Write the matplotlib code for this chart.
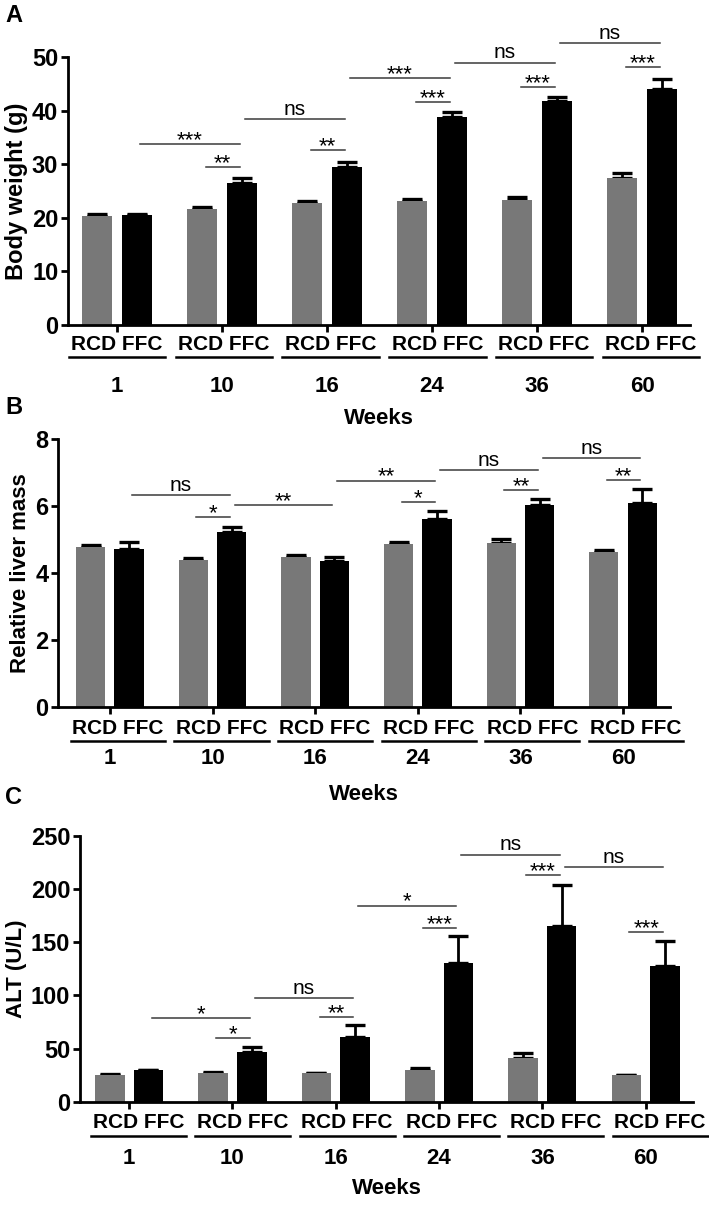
import matplotlib
matplotlib.use('Agg')
import matplotlib.pyplot as plt
import matplotlib.transforms as mtransforms
import numpy as np

# ============================================================
# data
# ============================================================
weeks = ['1', '10', '16', '24', '36', '60']
group_label = 'RCD FFC'

bw_rcd      = [20.4, 21.6, 22.85, 23.2, 23.3, 27.4]
bw_rcd_err  = [0.3, 0.5, 0.35, 0.3, 0.7, 1.0]
bw_ffc      = [20.5, 26.6, 29.6, 38.9, 41.8, 44.0]
bw_ffc_err  = [0.3, 0.9, 0.8, 0.8, 0.85, 2.0]

liver_rcd     = [4.77, 4.39, 4.48, 4.87, 4.91, 4.63]
liver_rcd_err = [0.06, 0.05, 0.06, 0.05, 0.10, 0.06]
liver_ffc     = [4.71, 5.22, 4.37, 5.60, 6.02, 6.08]
liver_ffc_err = [0.23, 0.16, 0.12, 0.26, 0.20, 0.42]

alt_rcd     = [25.6, 27.2, 27.2, 30.0, 41.6, 25.3]
alt_rcd_err = [0.7, 0.6, 0.3, 2.2, 4.3, 0.3]
alt_ffc     = [30.0, 46.6, 60.6, 130.3, 165.3, 127.8]
alt_ffc_err = [0.0, 4.7, 11.3, 26.0, 38.8, 23.1]

# significance brackets: (week idx a, group a, week idx b, group b, height, label)
bw_sig = [(0, 'F', 1, 'F', 33.8, '***'), (1, 'R', 1, 'F', 29.5, '**'),
          (1, 'F', 2, 'F', 38.4, 'ns'),  (2, 'R', 2, 'F', 32.6, '**'),
          (2, 'F', 3, 'F', 46.1, '***'), (3, 'R', 3, 'F', 41.6, '***'),
          (3, 'F', 4, 'F', 49.0, 'ns'),  (4, 'R', 4, 'F', 44.4, '***'),
          (4, 'F', 5, 'F', 52.7, 'ns'),  (5, 'R', 5, 'F', 48.1, '***')]
liver_sig = [(0, 'F', 1, 'F', 6.32, 'ns'), (1, 'R', 1, 'F', 5.66, '*'),
             (1, 'F', 2, 'F', 6.04, '**'), (2, 'F', 3, 'F', 6.76, '**'),
             (3, 'R', 3, 'F', 6.12, '*'),  (3, 'F', 4, 'F', 7.08, 'ns'),
             (4, 'R', 4, 'F', 6.48, '**'), (4, 'F', 5, 'F', 7.43, 'ns'),
             (5, 'R', 5, 'F', 6.77, '**')]
alt_sig = [(0, 'F', 1, 'F', 79.1, '*'),   (1, 'R', 1, 'F', 60.0, '*'),
           (1, 'F', 2, 'F', 97.8, 'ns'),  (2, 'R', 2, 'F', 79.4, '**'),
           (2, 'F', 3, 'F', 184.4, '*'),  (3, 'R', 3, 'F', 163.4, '***'),
           (3, 'F', 4, 'F', 232.2, 'ns'), (4, 'R', 4, 'F', 213.1, '***'),
           (4, 'F', 5, 'F', 220.3, 'ns'), (5, 'R', 5, 'F', 159.4, '***')]

# ============================================================
# style
# ============================================================
W, H = 709, 1205
SANS = ['Liberation Sans', 'DejaVu Sans']
plt.rcParams['font.family'] = SANS
color_rcd = '#787878'
color_ffc = '#000000'
off = 0.187
bar_w = 0.286

fig = plt.figure(figsize=(W / 100, H / 100), dpi=100)


def px_axes(left, right, top, bottom):
    return fig.add_axes([left / W, 1 - bottom / H, (right - left) / W, (bottom - top) / H])


def panel(ax, rcd, rcd_err, ffc, ffc_err, sig, ymax, ystep, ylabel, ylabel_size,
          xlim, lab_shift, lab_step, y_grp, y_line, y_week, y_weeks, letter, letter_y):
    x = np.arange(len(weeks))
    ekw = dict(elinewidth=2.0, capsize=7, capthick=2.4, ecolor='black')
    ax.bar(x - off, rcd, bar_w, color=color_rcd, zorder=2)
    ax.errorbar(x - off, rcd, yerr=[np.zeros(len(rcd)), rcd_err], fmt='none', zorder=1, **ekw)
    ax.bar(x + off, ffc, bar_w, color=color_ffc, zorder=2)
    ax.errorbar(x + off, ffc, yerr=[np.zeros(len(ffc)), ffc_err], fmt='none', zorder=1, **ekw)

    ax.set_xlim(*xlim)
    ax.set_ylim(0, ymax)
    ax.set_yticks(np.arange(0, ymax + ystep / 2, ystep))
    ax.set_xticks(x)
    ax.set_xticklabels([])
    for s in ['top', 'right']:
        ax.spines[s].set_visible(False)
    for s in ['left', 'bottom']:
        ax.spines[s].set_linewidth(2.0)
    ax.tick_params(axis='both', width=2.0, length=5, direction='out', pad=2)
    for t in ax.get_yticklabels():
        t.set_fontweight('bold')
        t.set_fontsize(17)
    ax.set_ylabel(ylabel, fontsize=ylabel_size, fontweight='bold', labelpad=3)

    # significance bars
    for a, ga, b, gb, h, lab in sig:
        xa = a + (off if ga == 'F' else -off) + 0.03
        xb = b + (off if gb == 'F' else -off) - 0.02
        ax.plot([xa, xb], [h, h], color='#3a3a3a', lw=1.1, clip_on=False, zorder=3)
        if lab == 'ns':
            ax.annotate(lab, ((xa + xb) / 2, h), xytext=(0, 3), textcoords='offset points',
                        ha='center', va='baseline', fontsize=15, annotation_clip=False)
        else:
            ax.annotate(lab, ((xa + xb) / 2, h), xytext=(0, -1.5), textcoords='offset points',
                        ha='center', va='baseline', fontsize=16, annotation_clip=False)

    # group labels under the axis
    tr = mtransforms.blended_transform_factory(ax.transData, fig.transFigure)
    for i, wk in enumerate(weeks):
        xc = i + lab_shift + i * lab_step
        fig.text(xc, 1 - y_grp / H, group_label, transform=tr, ha='center', va='center',
                 fontsize=15, fontweight='bold')
        fig.add_artist(plt.Line2D([xc - 0.46, xc + 0.46], [1 - y_line / H] * 2,
                                  transform=tr, color='black', lw=1.8))
        fig.text(i, 1 - y_week / H, wk, transform=tr, ha='center', va='center',
                 fontsize=16, fontweight='bold')
    pos = ax.get_position()
    fig.text(pos.x0 + pos.width / 2, 1 - y_weeks / H, 'Weeks', ha='center', va='center',
             fontsize=16, fontweight='bold')
    fig.text(5 / W, 1 - letter_y / H, letter, ha='left', va='center',
             fontsize=17, fontweight='bold')


axA = px_axes(68, 690, 57.3, 325)
panel(axA, bw_rcd, bw_rcd_err, bw_ffc, bw_ffc_err, bw_sig, 50, 10, 'Body weight (g)', 17,
      (-0.467, 5.457), 0.0, 0.017, 345, 357, 386, 419, 'A', 15)

axB = px_axes(58, 670, 439, 707)
panel(axB, liver_rcd, liver_rcd_err, liver_ffc, liver_ffc_err, liver_sig, 8, 2,
      'Relative liver mass', 16,
      (-0.506, 5.458), 0.08, 0.009, 729, 741, 758, 795, 'B', 408)

axC = px_axes(80, 693, 835.7, 1102)
panel(axC, alt_rcd, alt_rcd_err, alt_ffc, alt_ffc_err, alt_sig, 250, 50, 'ALT (U/L)', 16,
      (-0.476, 5.458), 0.09, 0.01, 1123, 1136, 1158, 1188, 'C', 797)

plt.savefig('out.png', dpi=100)
